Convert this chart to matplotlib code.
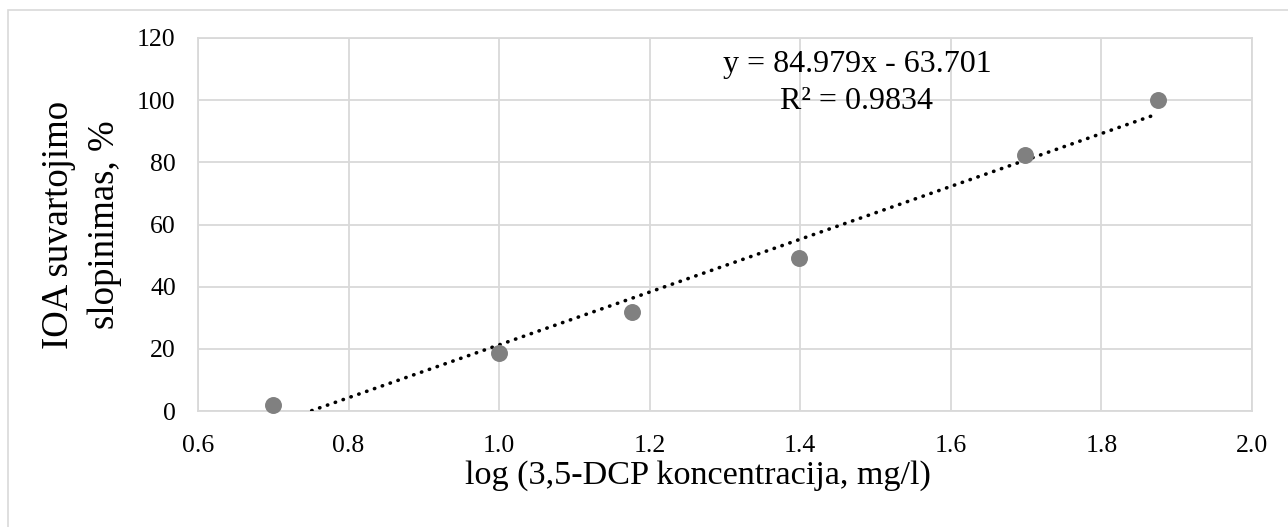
import numpy as np
import matplotlib
matplotlib.use("Agg")
import matplotlib.pyplot as plt
from matplotlib.patches import Rectangle

# data
log_conc = [0.699, 1.000, 1.176, 1.398, 1.699, 1.875]
inhibition = [1.9, 18.8, 32.0, 49.3, 82.4, 100.0]

# Excel trendline (as printed on the chart)
SLOPE = 84.979
INTERCEPT = -63.701
R2 = 0.9834

x_ticks = [0.6, 0.8, 1.0, 1.2, 1.4, 1.6, 1.8, 2.0]
y_ticks = [0, 20, 40, 60, 80, 100, 120]

GRID = "#d9d9d9"
plt.rcParams["font.family"] = ["Liberation Serif", "DejaVu Serif"]

fig = plt.figure(figsize=(12.88, 5.27), dpi=100)
ax = fig.add_axes([198 / 1288, 1 - 411 / 527, (1252 - 198) / 1288, (411 - 38) / 527])

# outer chart border
fig.patches.append(Rectangle((8 / 1288, -0.05), 1.2, 1 - 10 / 527 + 0.05,
                             transform=fig.transFigure, fill=False,
                             edgecolor=GRID, lw=1.2))

ax.set_xlim(0.6, 2.0)
ax.set_ylim(0, 120)
ax.set_xticks(x_ticks)
ax.set_yticks(y_ticks)
ax.set_xticklabels([f"{t:.1f}" for t in x_ticks])
ax.set_yticklabels([str(t) for t in y_ticks])
ax.tick_params(length=0, labelsize=18.5)
ax.tick_params(axis="x", pad=17)
ax.tick_params(axis="y", pad=16)
ax.grid(True, color=GRID, lw=1.3)
ax.set_axisbelow(True)
for sp in ax.spines.values():
    sp.set_color(GRID)
    sp.set_linewidth(1.3)

# trendline
xs = np.array([min(log_conc), max(log_conc)])
ax.plot(xs, SLOPE * xs + INTERCEPT, color="black", lw=2.6,
        linestyle=(0, (0.1, 2.2)), dash_capstyle="round", zorder=3)

ax.scatter(log_conc, inhibition, s=125, color="#808080", zorder=4, clip_on=False)

fig.text(857 / 1288, 1 - 83 / 527,
         f"y = {SLOPE:.3f}x - {abs(INTERCEPT):.3f}\nR² = {R2:.4f}",
         ha="center", va="center", fontsize=23, linespacing=1.4)

fig.text(82 / 1288, 1 - 225 / 527, "IOA suvartojimo\nslopinimas, %",
         rotation=90, ha="center", va="center", fontsize=26.5,
         multialignment="center", linespacing=1.45)
fig.text(698 / 1288, 1 - 484 / 527, "log (3,5-DCP koncentracija, mg/l)",
         ha="center", va="baseline", fontsize=24.6)

fig.savefig("out.png", dpi=100)
